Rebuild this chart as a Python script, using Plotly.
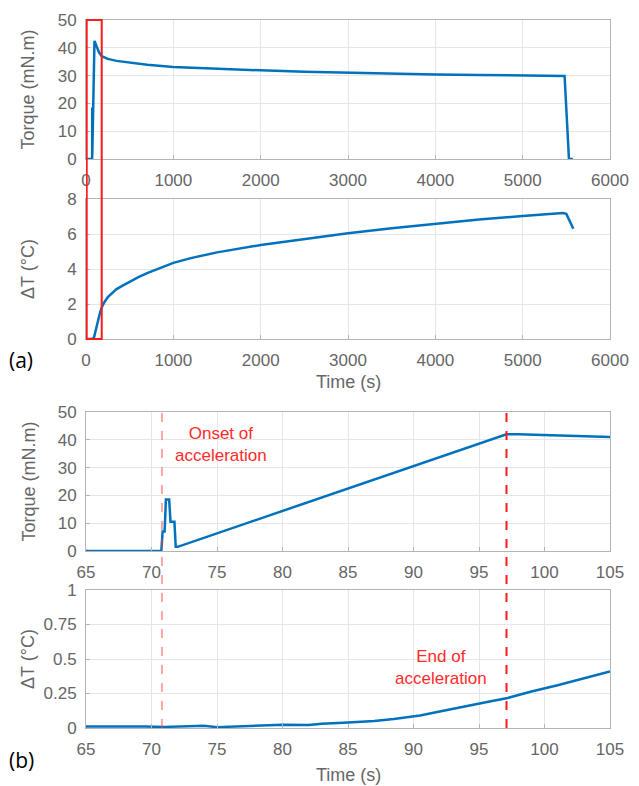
import plotly.graph_objects as go

# ---------------- data ----------------
# (a) full experiment
time_full_tq = [0, 60, 70.8, 71.0, 71.2, 71.4, 71.6, 71.8, 72.0, 97.1, 120, 150, 180, 250, 350,
                500, 700, 1000, 1500, 2000, 2500, 3000, 3500, 4000, 4500, 5000, 5480, 5505,
                5530, 5575]
torque_full = [0, 0, 0, 7, 18.5, 18.5, 10.5, 10.5, 1.5, 42.5, 40.5, 38.3, 37.0, 36.0, 35.3,
               34.6, 33.9, 33.1, 32.4, 31.9, 31.4, 31.0, 30.7, 30.4, 30.2, 30.0, 29.9, 15,
               0, 0]

time_full_dt = [0, 60, 90, 105, 120, 140, 160, 180, 210, 250, 300, 350, 420, 500, 600, 700,
                800, 900, 1000, 1200, 1500, 2000, 2500, 3000, 3500, 4000, 4500, 5000, 5460,
                5500, 5580]
dT_full = [0, 0, 0.05, 0.4, 0.75, 1.1, 1.5, 1.8, 2.1, 2.4, 2.65, 2.85, 3.05, 3.28, 3.53,
           3.76, 3.97, 4.17, 4.35, 4.62, 4.95, 5.37, 5.72, 6.04, 6.33, 6.6, 6.83, 7.03, 7.2,
           7.15, 6.3]

# (b) zoom on acceleration phase
time_zoom_tq = [65, 70.75, 70.85, 71.0, 71.1, 71.35, 71.45, 71.75, 71.85, 72.0, 97.1, 98, 105]
torque_zoom = [0, 0, 7, 7, 18.5, 18.5, 10.5, 10.5, 1.5, 1.5, 42, 42, 41]

time_zoom_dt = [65, 66.5, 68, 69.5, 71, 72.5, 74, 75, 76.5, 78, 80, 82, 83, 85, 87, 88.5,
                90, 90.5, 92, 94, 96, 97.1, 99, 101, 103, 105]
dT_zoom = [0.01, 0.01, 0.015, 0.01, 0.008, 0.012, 0.016, 0.006, 0.012, 0.018, 0.024, 0.022,
           0.03, 0.04, 0.05, 0.065, 0.08, 0.09, 0.12, 0.155, 0.195, 0.215, 0.265, 0.31,
           0.36, 0.41]

onset_time = 70.8
end_time = 97.1
box_time = [8, 180]

ticks_full = [0, 1000, 2000, 3000, 4000, 5000, 6000]
ticks_zoom = [65, 70, 75, 80, 85, 90, 95, 100, 105]
ticks_torque = [0, 10, 20, 30, 40, 50]
ticks_dT_full = [0, 2, 4, 6, 8]
ticks_dT_zoom = [0, 0.25, 0.5, 0.75, 1]
ticks_dT_zoom_text = ["0", "0.25", "0.5", "0.75", "1"]

# ---------------- layout geometry ----------------
W, H = 639, 786
def ydom(top, bottom):
    return [1 - bottom / H, 1 - top / H]
xdom = [86 / W, 610 / W]
d1 = ydom(20, 159)
d2 = ydom(199, 339)
d3 = ydom(412, 551)
d4 = ydom(590, 728)

BLUE = "#0072BD"
GRID = "#e6e6e6"
EDGE = "#b4b4b4"
TXT = "#666666"
FONT = "Arial, 'Liberation Sans', sans-serif"

fig = go.Figure()
fig.add_trace(go.Scatter(x=time_full_tq, y=torque_full, xaxis="x", yaxis="y",
                         mode="lines", line=dict(color=BLUE, width=2.5), showlegend=False))
fig.add_trace(go.Scatter(x=time_full_dt, y=dT_full, xaxis="x2", yaxis="y2",
                         mode="lines", line=dict(color=BLUE, width=2.5), showlegend=False))
fig.add_trace(go.Scatter(x=time_zoom_tq, y=torque_zoom, xaxis="x3", yaxis="y3",
                         mode="lines", line=dict(color=BLUE, width=2.5), showlegend=False))
fig.add_trace(go.Scatter(x=time_zoom_dt, y=dT_zoom, xaxis="x4", yaxis="y4",
                         mode="lines", line=dict(color=BLUE, width=2.5), showlegend=False))

def xax(anchor, rng, tickvals):
    return dict(domain=xdom, anchor=anchor, range=rng, tickvals=tickvals,
                showgrid=True, gridcolor=GRID, zeroline=False,
                showline=True, linecolor=EDGE, linewidth=1, mirror=True,
                ticks="inside", ticklen=4, tickcolor=EDGE,
                tickfont=dict(family=FONT, size=17, color=TXT),
                ticklabelstandoff=6, automargin=False)

def yax(anchor, dom, rng, tickvals, ticktext=None):
    d = dict(domain=dom, anchor=anchor, range=rng, tickvals=tickvals,
             showgrid=True, gridcolor=GRID, zeroline=False,
             showline=True, linecolor=EDGE, linewidth=1, mirror=True,
             ticks="inside", ticklen=4, tickcolor=EDGE,
             tickfont=dict(family=FONT, size=17, color=TXT),
             ticklabelstandoff=5, automargin=False)
    if ticktext is not None:
        d["ticktext"] = ticktext
    return d

fig.update_layout(
    width=W, height=H,
    margin=dict(l=0, r=0, t=0, b=0),
    paper_bgcolor="white", plot_bgcolor="white",
    xaxis=xax("y", [0, 6000], ticks_full),
    yaxis=yax("x", d1, [0, 50], ticks_torque),
    xaxis2=xax("y2", [0, 6000], ticks_full),
    yaxis2=yax("x2", d2, [0, 8], ticks_dT_full),
    xaxis3=xax("y3", [65, 105], ticks_zoom),
    yaxis3=yax("x3", d3, [0, 50], ticks_torque),
    xaxis4=xax("y4", [65, 105], ticks_zoom),
    yaxis4=yax("x4", d4, [0, 1], ticks_dT_zoom, ticks_dT_zoom_text),
)

# red box spanning panels (a)
fig.add_shape(type="rect", xref="x", yref="paper", x0=box_time[0], x1=box_time[1],
              y0=d2[0], y1=d1[1], line=dict(color="#ff1a1a", width=2), fillcolor="rgba(0,0,0,0)")
# dashed lines spanning panels (b)
fig.add_shape(type="line", xref="x3", yref="paper", x0=onset_time, x1=onset_time,
              y0=d4[0], y1=d3[1], line=dict(color="rgba(255,60,60,0.45)", width=2, dash="dash"))
fig.add_shape(type="line", xref="x3", yref="paper", x0=end_time, x1=end_time,
              y0=d4[0], y1=d3[1], line=dict(color="#ff1a1a", width=2, dash="dash"))

ann = []
def ytitle(text, dom):
    ann.append(dict(text=text, xref="paper", yref="paper", x=28 / W, y=(dom[0] + dom[1]) / 2,
                    textangle=-90, showarrow=False, xanchor="center", yanchor="middle",
                    font=dict(family=FONT, size=18, color=TXT)))
ytitle("Torque (mN.m)", d1)
ytitle("ΔT (°C)", d2)
ytitle("Torque (mN.m)", d3)
ytitle("ΔT (°C)", d4)
for ypx in (382, 775):
    ann.append(dict(text="Time (s)", xref="paper", yref="paper", x=348 / W, y=1 - ypx / H,
                    showarrow=False, xanchor="center", yanchor="middle",
                    font=dict(family=FONT, size=18, color=TXT)))
ann.append(dict(text="(a)", xref="paper", yref="paper", x=7 / W, y=1 - 360 / H,
                showarrow=False, xanchor="left", yanchor="middle",
                font=dict(family="Open Sans", size=21, color="black")))
ann.append(dict(text="(b)", xref="paper", yref="paper", x=7 / W, y=1 - 760 / H,
                showarrow=False, xanchor="left", yanchor="middle",
                font=dict(family="Open Sans", size=21, color="black")))
ann.append(dict(text="Onset of<br>acceleration", xref="x3", yref="y3", x=75.3, y=38.3,
                showarrow=False, xanchor="center", yanchor="middle",
                font=dict(family=FONT, size=17, color="#ff2a2a")))
ann.append(dict(text="End of<br>acceleration", xref="x4", yref="y4", x=92.1, y=0.44,
                showarrow=False, xanchor="center", yanchor="middle",
                font=dict(family=FONT, size=17, color="#ff2a2a")))
fig.update_layout(annotations=ann)

fig.write_html("out.html")
